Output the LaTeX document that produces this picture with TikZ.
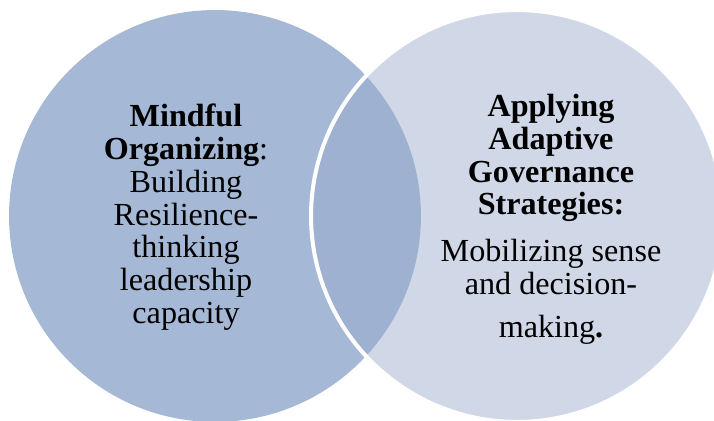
\documentclass[tikz,border=0pt]{standalone}
\usepackage{fontspec}
\setmainfont{Liberation Serif}
\definecolor{my blue}{HTML}{A5B9D6}
\definecolor{my pale blue}{HTML}{96A8CC}
\tikzset{venn text/.style={align=center, inner sep=0pt, anchor=north, font=\fontsize{18.3}{18.6}\selectfont}}

\begin{document}
\begin{tikzpicture}[x=0.02cm, y=-0.02cm]
    \useasboundingbox (0, 0) rectangle (714, 421);
    \clip (0, 0) rectangle (714, 421);
    \fill [my blue] (215, 216) circle [radius=4.12cm];
    \fill [my pale blue, fill opacity=0.45] (517, 216) circle [radius=4.12cm];
    \draw [white, line width=2.3pt] (517, 216) circle [radius=4.12cm];
    \node [venn text] (mindful) at (186, 104) {\textbf{Mindful}\\\textbf{Organizing}:\\Building\\Resilience-\\thinking\\leadership\\capacity};
    \node [venn text] (adaptive) at (551, 94) {\textbf{Applying}\\\textbf{Adaptive}\\\textbf{Governance}\\\textbf{Strategies:}\\[0.28cm]Mobilizing sense\\and decision-\\[0.22cm]making\textbf{.}};
\end{tikzpicture}
\end{document}
